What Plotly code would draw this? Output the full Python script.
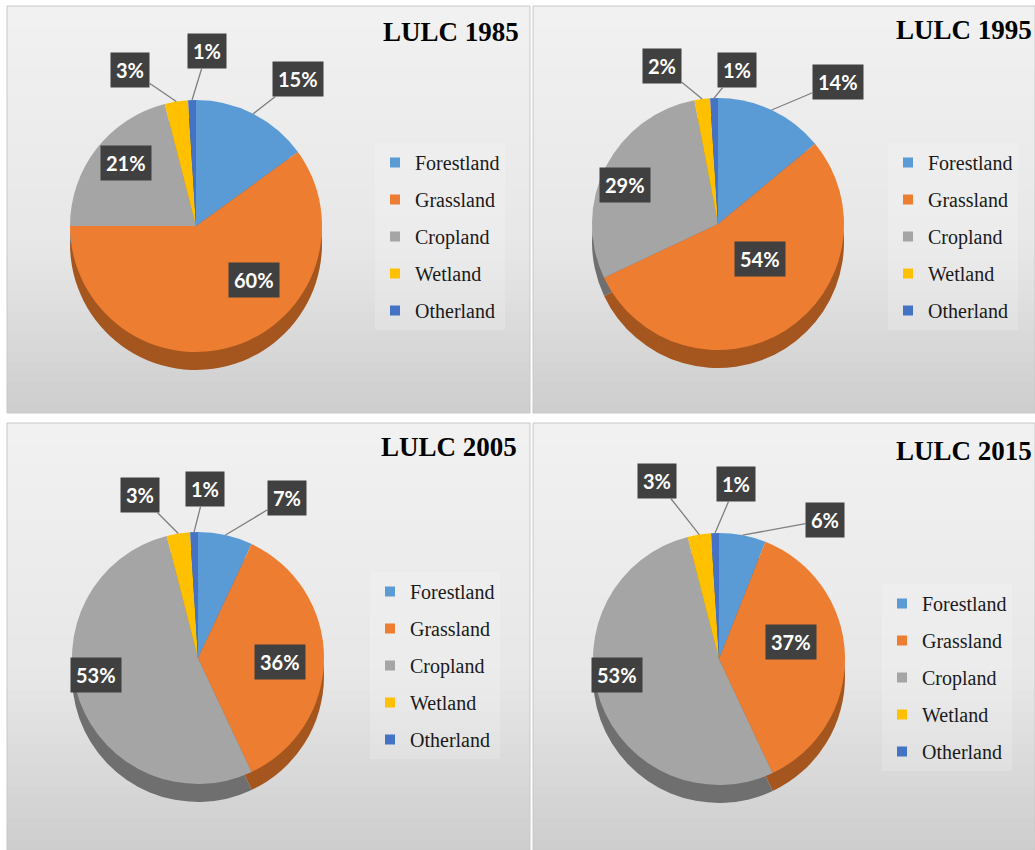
import math
import plotly.graph_objects as go

# ---------------- data ----------------
CATEGORIES = ["Forestland", "Grassland", "Cropland", "Wetland", "Otherland"]
YEARS = ["1985", "1995", "2005", "2015"]
VALUES_1985 = [15, 60, 21, 3, 1]
VALUES_1995 = [14, 54, 29, 2, 1]
VALUES_2005 = [7, 36, 53, 3, 1]
VALUES_2015 = [6, 37, 53, 3, 1]
ALL_VALUES = [VALUES_1985, VALUES_1995, VALUES_2005, VALUES_2015]

# ---------------- styles / layout ----------------
W, H = 1035, 850
COLORS = ["#5B9BD5", "#ED7D31", "#A5A5A5", "#FFC000", "#4472C4"]
DARK = ["#3A6E9E", "#A5561F", "#6F6F6F", "#B38600", "#2E4F8A"]
PANELS = [(7, 6, 530, 413), (533, 6, 1035, 413), (7, 423, 530, 850), (533, 423, 1035, 850)]
PIE_CENTER = [(196, 226), (718, 224), (198, 658), (719, 659)]
PIE_D = 252
DEPTH = 18
TITLE_POS = [(521, 32), (1034, 30), (519, 447), (1034, 451)]
LEGEND_TEXT_X = [415, 928, 410, 922]
LEGEND_FIRST_Y = [163, 163, 592, 604]
OUTSIDE = [True, False, False, True, True]
LABEL_POS = [
    [(298, 79), (254, 280), (126, 163), (130, 70), (207, 51)],
    [(838, 82), (760, 259), (625, 185), (662, 66), (737, 70)],
    [(287, 498), (280, 662), (96, 675), (140, 495), (205, 489)],
    [(825, 520), (791, 642), (617, 675), (657, 481), (736, 484)],
]


def px(x):
    return x / W


def py(y):
    return 1 - y / H


def domain(cx, cy, d):
    return dict(x=[px(cx - d / 2), px(cx + d / 2)], y=[py(cy + d / 2), py(cy - d / 2)])


fig = go.Figure()
shapes = []
annotations = []

# panel backgrounds (vertical gradient made of strips)
N = 40
top_c, mid_c, bot_c = (241, 241, 241), (231, 231, 231), (206, 206, 206)
for (x0, y0, x1, y1) in PANELS:
    for k in range(N):
        t = k / (N - 1)
        if t < 0.6:
            u = t / 0.6
            c = [round(top_c[i] + (mid_c[i] - top_c[i]) * u) for i in range(3)]
        else:
            u = (t - 0.6) / 0.4
            c = [round(mid_c[i] + (bot_c[i] - mid_c[i]) * u) for i in range(3)]
        ya = y0 + (y1 - y0) * k / N
        yb = y0 + (y1 - y0) * (k + 1) / N + 1
        shapes.append(dict(type="rect", xref="paper", yref="paper",
                           x0=px(x0), x1=px(x1), y0=py(min(yb, y1)), y1=py(ya),
                           fillcolor="rgb(%d,%d,%d)" % tuple(c), line=dict(width=0),
                           layer="below"))
    shapes.append(dict(type="rect", xref="paper", yref="paper",
                       x0=px(x0), x1=px(x1), y0=py(y1), y1=py(y0),
                       fillcolor="rgba(0,0,0,0)", line=dict(width=1, color="#C8C8C8"),
                       layer="below"))

legend_names = ["legend", "legend2", "legend3", "legend4"]
R = PIE_D / 2

for i, vals in enumerate(ALL_VALUES):
    cx, cy = PIE_CENTER[i]
    # side (depth) of the pie
    fig.add_trace(go.Pie(labels=CATEGORIES, values=vals, sort=False, direction="clockwise",
                         rotation=0, domain=domain(cx, cy + DEPTH, PIE_D),
                         marker=dict(colors=DARK, line=dict(width=0)),
                         textinfo="none", hoverinfo="skip", showlegend=False))
    # top face
    fig.add_trace(go.Pie(labels=CATEGORIES, values=vals, sort=False, direction="clockwise",
                         rotation=0, domain=domain(cx, cy, PIE_D),
                         marker=dict(colors=COLORS, line=dict(width=0)),
                         textinfo="none", hovertemplate="%{label}: %{value}%<extra></extra>",
                         showlegend=False))
    # legend entries
    for j, cat in enumerate(CATEGORIES):
        fig.add_trace(go.Scatter(x=[None], y=[None], mode="markers", name=cat,
                                 marker=dict(symbol="square", size=10, color=COLORS[j]),
                                 legend=legend_names[i], legendgroup="g%d_%d" % (i, j),
                                 showlegend=True, hoverinfo="skip"))
    # labels
    total = sum(vals)
    cum = 0
    for j, v in enumerate(vals):
        mid = (cum + v / 2) / total * 2 * math.pi
        cum += v
        lx, ly = LABEL_POS[i][j]
        txt = "%d%%" % v
        common = dict(text=txt, xref="paper", yref="paper", bgcolor="#404040",
                      borderpad=5, font=dict(family="Lato", size=20, color="white", weight="bold"))
        if OUTSIDE[j]:
            axp = cx + R * math.sin(mid)
            ayp = cy - R * math.cos(mid)
            annotations.append(dict(x=px(axp), y=py(ayp), ax=lx - axp, ay=ly - ayp,
                                    axref="pixel", ayref="pixel", showarrow=True,
                                    arrowhead=0, arrowwidth=1.3, arrowcolor="#7F7F7F",
                                    standoff=0, **common))
        else:
            annotations.append(dict(x=px(lx), y=py(ly), showarrow=False,
                                    xanchor="center", yanchor="middle", **common))
    # title
    tx, ty = TITLE_POS[i]
    annotations.append(dict(text="LULC " + YEARS[i], x=px(tx), y=py(ty), xref="paper", yref="paper",
                            xanchor="right", yanchor="middle", showarrow=False,
                            font=dict(family="Liberation Serif", size=27, color="black", weight="bold")))

layout_legends = {}
for i, name in enumerate(legend_names):
    layout_legends[name] = dict(
        x=px(LEGEND_TEXT_X[i] - 40), y=py(LEGEND_FIRST_Y[i] - 20),
        xanchor="left", yanchor="top", bgcolor="rgba(255,255,255,0.18)",
        font=dict(family="Liberation Serif", size=20, color="#1A1A1A"),
        traceorder="grouped", tracegroupgap=8, itemsizing="trace", borderwidth=0,
    )

fig.update_layout(
    width=W, height=H, margin=dict(l=0, r=0, t=0, b=0),
    paper_bgcolor="white", plot_bgcolor="rgba(0,0,0,0)",
    xaxis=dict(visible=False), yaxis=dict(visible=False),
    shapes=shapes, annotations=annotations, showlegend=True,
    **layout_legends,
)

fig.write_html("out.html", config={"displayModeBar": False},
               post_script="document.body.style.margin='0px';document.body.style.overflow='hidden';")
